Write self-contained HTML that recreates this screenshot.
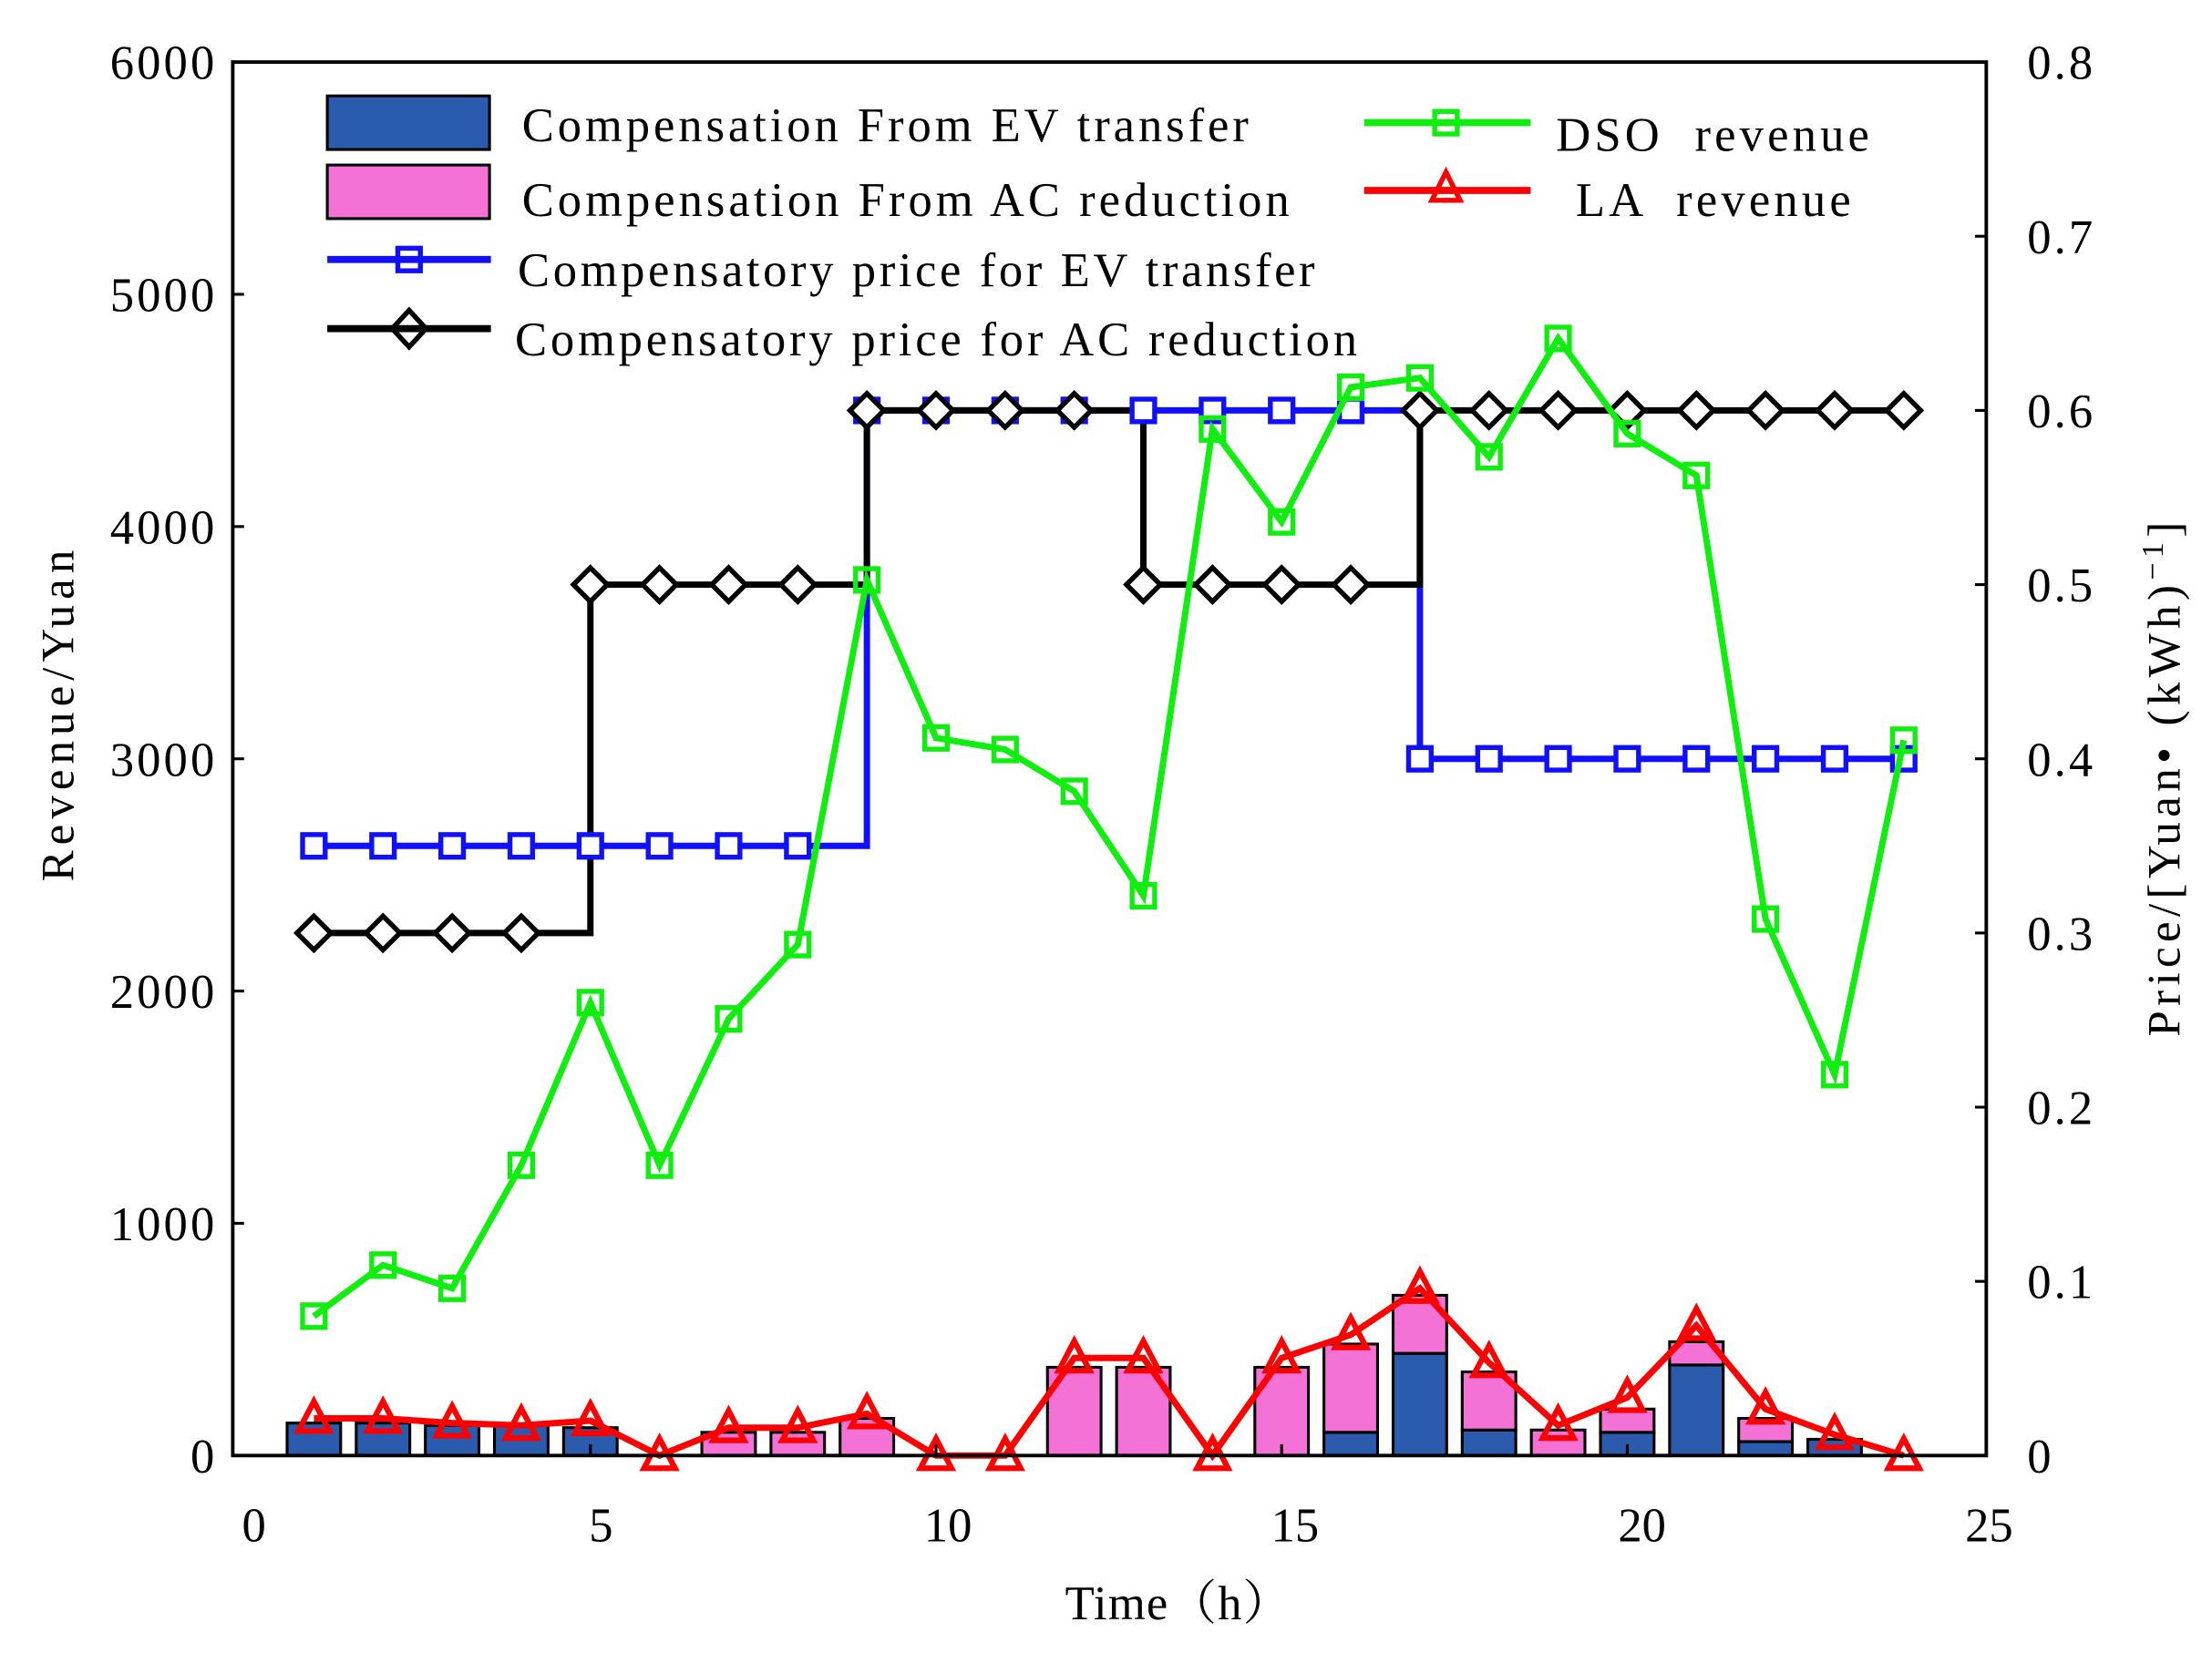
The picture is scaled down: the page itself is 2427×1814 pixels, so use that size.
<!DOCTYPE html>
<html><head><meta charset="utf-8"><style>
html,body{margin:0;padding:0;background:#fff}
svg{display:block}
text{font-family:"Liberation Serif","Noto Serif CJK SC",serif;fill:#000}
</style></head><body>
<svg id="chart" width="2427" height="1814" viewBox="0 0 1568 1172" preserveAspectRatio="none" xmlns="http://www.w3.org/2000/svg">
<rect width="1568" height="1172" fill="#fff"/>
<g id="bars"></g>
<g id="lines"></g>
<rect x="165" y="44" width="1243" height="988" fill="none" stroke="#000" stroke-width="2.5"/>
<g id="axes"></g>
<text x="755" y="1148" font-size="34" textLength="160" lengthAdjust="spacing">Time（h）</text>
<text transform="translate(52,625) rotate(-90)" font-size="33" textLength="235" lengthAdjust="spacing">Revenue/Yuan</text>
<text transform="translate(1545,735) rotate(-90)" font-size="33" textLength="365" lengthAdjust="spacing">Price/[Yuan• (kWh)<tspan dy="-12" font-size="22">−1</tspan><tspan dy="12">]</tspan></text>
<g>
<rect x="232" y="68" width="115" height="38" fill="#2b5bad" stroke="#000" stroke-width="2"/>
<text x="370" y="100" font-size="34" textLength="515" lengthAdjust="spacing">Compensation From EV transfer</text>
<rect x="232" y="117" width="115" height="38" fill="#f472d6" stroke="#000" stroke-width="2"/>
<text x="370" y="153" font-size="34" textLength="544" lengthAdjust="spacing">Compensation From AC reduction</text>
<line x1="232" y1="184" x2="348" y2="184" stroke="#1010ff" stroke-width="5"/>
<rect x="282" y="176" width="16" height="16" fill="none" stroke="#1010ff" stroke-width="3.5"/>
<text x="367" y="203" font-size="34" textLength="565" lengthAdjust="spacing">Compensatory price for EV transfer</text>
<line x1="232" y1="233" x2="348" y2="233" stroke="#000" stroke-width="5"/>
<path d="M290,220 L302,233 L290,246 L278,233Z" fill="none" stroke="#000" stroke-width="3.5"/>
<text x="365" y="252" font-size="34" textLength="597" lengthAdjust="spacing">Compensatory price for AC reduction</text>
<line x1="967" y1="87" x2="1085" y2="87" stroke="#10ee10" stroke-width="5"/>
<rect x="1017" y="79" width="16" height="16" fill="none" stroke="#10ee10" stroke-width="3.5"/>
<text x="1103" y="107" font-size="34" xml:space="preserve" textLength="222" lengthAdjust="spacing">DSO  revenue</text>
<line x1="967" y1="135" x2="1085" y2="135" stroke="#ff0000" stroke-width="5"/>
<path d="M1025,122 L1035,142 L1015,142Z" fill="none" stroke="#ff0000" stroke-width="3.5"/>
<text x="1117" y="153" font-size="34" xml:space="preserve" textLength="195" lengthAdjust="spacing">LA  revenue</text>
</g>
</svg>
<script>
const hours=[1,2,3,4,5,6,7,8,9,10,11,12,13,14,15,16,17,18,19,20,21,22,23,24];
const dsoRevenue=[600,820,720,1250,1950,1250,1880,2200,3770,3090,3040,2860,2410,4420,4020,4600,4640,4300,4810,4400,4220,2310,1640,3080];
const laRevenue=[160,160,140,130,150,0,120,120,180,0,0,420,420,0,420,520,720,400,130,250,560,200,90,0];
const evComp=[140,140,130,130,120,0,0,0,0,0,0,0,0,0,0,100,440,110,0,100,390,60,70,0];
const acComp=[0,0,0,0,0,0,100,100,160,0,0,380,380,0,380,380,250,250,110,100,100,100,0,0];
const evPrice=[0.35,0.35,0.35,0.35,0.35,0.35,0.35,0.35,0.6,0.6,0.6,0.6,0.6,0.6,0.6,0.6,0.4,0.4,0.4,0.4,0.4,0.4,0.4,0.4];
const acPrice=[0.3,0.3,0.3,0.3,0.5,0.5,0.5,0.5,0.6,0.6,0.6,0.6,0.5,0.5,0.5,0.5,0.6,0.6,0.6,0.6,0.6,0.6,0.6,0.6];
const xTicks=[0,5,10,15,20,25];
const yLeftTicks=[0,1000,2000,3000,4000,5000,6000];
const yRightTicks=[0,0.1,0.2,0.3,0.4,0.5,0.6,0.7,0.8];

const NS='http://www.w3.org/2000/svg';
const X0=165,X1=1408,Y0=1032,Y1=44;
function xs(v){return 173.5+v*49;}
function xl(v){return 180+v*49.2;}
function yl(v){return Y0-(v/6000)*(Y0-Y1);}
function yr(v){return Y0-(v/0.8)*(Y0-Y1);}
function mk(tag,attrs,parent){const e=document.createElementNS(NS,tag);for(const k in attrs)e.setAttribute(k,attrs[k]);parent.appendChild(e);return e;}
const bars=document.getElementById('bars'),lines=document.getElementById('lines'),axes=document.getElementById('axes');
const bw=38;
hours.forEach((h,i)=>{
  const x=xs(h)-bw/2;
  if(evComp[i]>0){const r=mk('rect',{x:x,y:yl(evComp[i]),width:bw,height:yl(0)-yl(evComp[i]),fill:'#2b5bad',stroke:'#000','stroke-width':2},bars);
    
    }
  if(acComp[i]>0){const top=evComp[i]+acComp[i];const r=mk('rect',{x:x,y:yl(top),width:bw,height:yl(evComp[i])-yl(top),fill:'#f472d6',stroke:'#000','stroke-width':2},bars);
    
    }
});
function stairs(vals,color,name){
  let d='';
  hours.forEach((h,i)=>{const y=yr(vals[i]);
    if(i===0)d+='M'+xs(h)+','+y;else d+=' L'+xs(h)+','+yr(vals[i-1])+' L'+xs(h)+','+y;});
  const p=mk('path',{d:d,fill:'none',stroke:color,'stroke-width':4.5},lines);
  
  
}
stairs(evPrice,'#1010ff','line-ev-price');
stairs(acPrice,'#000','line-ac-price');
hours.forEach((h,i)=>{
  const r=mk('rect',{x:xs(h)-8,y:yr(evPrice[i])-8,width:16,height:16,fill:'#fff',stroke:'#1010ff','stroke-width':3.5},lines);
  
  
});
hours.forEach((h,i)=>{
  const x=xs(h),y=yr(acPrice[i]);
  const p=mk('path',{d:`M${x},${y-12} L${x+12},${y} L${x},${y+12} L${x-12},${y}Z`,fill:'#fff',stroke:'#000','stroke-width':3.5},lines);
  
  
});
function poly(vals,color,name){
  const pts=hours.map((h,i)=>xs(h)+','+yl(vals[i])).join(' ');
  const p=mk('polyline',{points:pts,fill:'none',stroke:color,'stroke-width':4.5},lines);
  
  
}
poly(dsoRevenue,'#10ee10','line-dso-revenue');
hours.forEach((h,i)=>{
  const r=mk('rect',{x:xs(h)-8,y:yl(dsoRevenue[i])-8,width:16,height:16,fill:'none',stroke:'#10ee10','stroke-width':3.5},lines);
  
  
});
poly(laRevenue,'#ff0000','line-la-revenue');
hours.forEach((h,i)=>{
  const x=xs(h),y=yl(laRevenue[i]);
  const p=mk('path',{d:`M${x},${y-12} L${x+11},${y+9} L${x-11},${y+9}Z`,fill:'none',stroke:'#ff0000','stroke-width':4},lines);
  
  
});
xTicks.forEach(t=>{
  const x=xs(t);
  if(t>0&&t<25)mk('line',{x1:x,y1:Y0,x2:x,y2:Y0-8,stroke:'#000','stroke-width':2},axes);
  const tx=mk('text',{x:xl(t),y:1093,'font-size':34,'text-anchor':'middle'},axes);tx.textContent=t;
  
  
});
yLeftTicks.forEach(t=>{
  const y=yl(t);
  mk('line',{x1:X0,y1:y,x2:X0+8,y2:y,stroke:'#000','stroke-width':2},axes);
  const tx=mk('text',{x:154,y:y+12,'font-size':34,'text-anchor':'end','letter-spacing':2},axes);tx.textContent=t;
  
  
});
yRightTicks.forEach(t=>{
  const y=yr(t);
  mk('line',{x1:X1,y1:y,x2:X1-8,y2:y,stroke:'#000','stroke-width':2},axes);
  const tx=mk('text',{x:1437,y:y+12,'font-size':34,'letter-spacing':2},axes);tx.textContent=t===0?'0':t.toFixed(1);
  
  
});
</script>
</body></html>
